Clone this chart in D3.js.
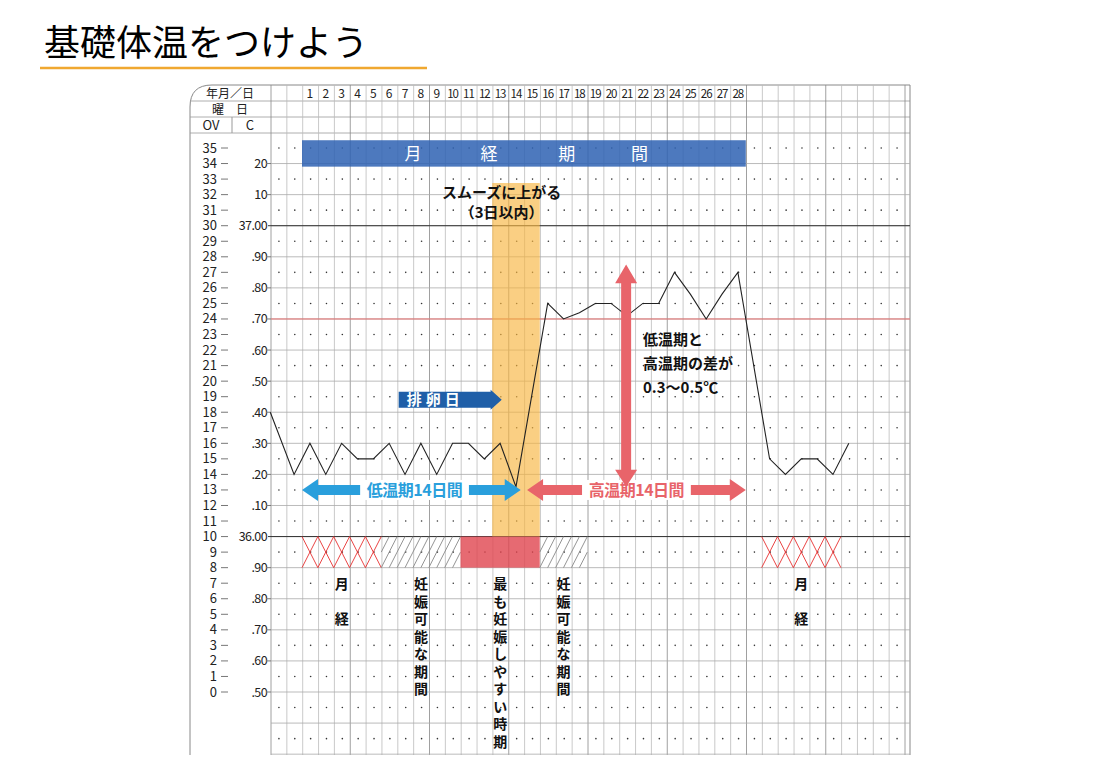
<!DOCTYPE html>
<html><head><meta charset="utf-8">
<script src="https://cdn.jsdelivr.net/npm/d3@7"></script>
<style>body{margin:0;background:#fff}text{font-family:"Noto Sans CJK JP","Noto Sans",sans-serif}</style>
</head><body>
<svg id="c" width="1100" height="777"></svg>
<script>
// data
const days = d3.range(1,29);
const ovTicks = d3.range(0,36);
const cTicks = [[34,"20"],[32,"10"],[30,"37.00"],[28,".90"],[26,".80"],[24,".70"],[22,".60"],[20,".50"],[18,".40"],[16,".30"],[14,".20"],[12,".10"],[10,"36.00"],[8,".90"],[6,".80"],[4,".70"],[2,".60"],[0,".50"]];
// [day, temperature offset from 36.00 in 0.01°C]
const temps = [[-1.5,40],[0,20],[1,30],[2,20],[3,30],[4,25],[5,25],[6,30],[7,20],[8,30],[9,20],[10,30],[11,30],[12,25],[13,30],[14,16],
  [16,75],[17,70],[18,72],[19,75],[20,75],[21,71],[22,75],[23,75],[24,85],[25,78],[26,70],[27,78],[28,85],
  [30,25],[31,20],[32,25],[33,25],[34,20],[35,30]];
const periods = [{t:"x",a:1,b:5},{t:"h",a:6,b:10},{t:"r",a:11,b:15},{t:"h",a:16,b:18},{t:"x",a:30,b:34}];
const vlabels = [[3,"月　経"],[8,"妊娠可能な期間"],[13,"最も妊娠しやすい時期"],[17,"妊娠可能な期間"],[32,"月　経"]];

const svg = d3.select("#c");
const w = 15.85;
const x = d3.scaleLinear().domain([0.5,1.5]).range([302,302+w]); // day center
const y = d3.scaleLinear().domain([35,0]).range([148,692]);
const tC = v => 10 + v/5; // temp offset -> OV row
const gx0 = 271, gx1 = 910, gtop = 85, gbot = 755;

// title
svg.append("text").attr("x",44).attr("y",56).attr("font-size",36).text("基礎体温をつけよう");
svg.append("line").attr("x1",40).attr("x2",427).attr("y1",68).attr("y2",68).attr("stroke","#f0a830").attr("stroke-width",2.5);

// frame
svg.append("path").attr("d",`M190,${gbot}V${gtop+22}Q190,${gtop} 212,${gtop}H${gx1}`).attr("fill","none").attr("stroke","#888");
[101,117,133].forEach(yy=>svg.append("line").attr("x1",190).attr("x2",gx1).attr("y1",yy).attr("y2",yy).attr("stroke","#999").attr("stroke-width",0.8));
svg.append("line").attr("x1",232).attr("x2",232).attr("y1",117).attr("y2",133).attr("stroke","#999");
const ncol = Math.floor((gx1-gx0)/w);
d3.range(ncol+1).forEach(i=>svg.append("line").attr("x1",gx0+i*w).attr("x2",gx0+i*w).attr("y1",gtop).attr("y2",gbot)
  .attr("stroke",i%5==0?"#888":"#bbb").attr("stroke-width",0.8));
svg.append("line").attr("x1",gx1).attr("x2",gx1).attr("y1",gtop).attr("y2",gbot).attr("stroke","#888");

// horizontal grid + dots
d3.range(-4,36).forEach(o=>{
  if(o%2==0) svg.append("line").attr("x1",gx0).attr("x2",gx1).attr("y1",y(o)).attr("y2",y(o)).attr("stroke","#aaa").attr("stroke-width",0.8);
  else d3.range(ncol).forEach(i=>svg.append("circle").attr("cx",gx0+(i+0.5)*w).attr("cy",y(o)).attr("r",0.8).attr("fill","#333"));
});
[30,10].forEach(o=>svg.append("line").attr("x1",268).attr("x2",gx1).attr("y1",y(o)).attr("y2",y(o)).attr("stroke","#333").attr("stroke-width",1));
svg.append("line").attr("x1",gx0).attr("x2",gx1).attr("y1",y(24)).attr("y2",y(24)).attr("stroke","#e87070").attr("stroke-width",1);

// header
const hs = svg.append("g").attr("font-size",12).attr("fill","#222");
hs.append("text").attr("x",230).attr("y",98).attr("text-anchor","middle").text("年月／日");
hs.append("text").attr("x",230).attr("y",114).attr("text-anchor","middle").text("曜　日");
hs.append("text").attr("x",211).attr("y",130).attr("font-size",13).attr("text-anchor","middle").text("OV");
hs.append("text").attr("x",250).attr("y",130).attr("font-size",13).attr("text-anchor","middle").text("C");
days.forEach(d=>hs.append("text").attr("x",x(d)).attr("y",98).attr("text-anchor","middle").attr("font-size",d>9?11.5:12).attr("letter-spacing",d>9?-1:0).text(d));

// axes
const ax = svg.append("g").attr("font-size",13).attr("fill","#222");
ovTicks.forEach(o=>{ax.append("text").attr("x",217).attr("y",y(o)+4.5).attr("text-anchor","end").text(o);
  ax.append("line").attr("x1",221).attr("x2",228).attr("y1",y(o)).attr("y2",y(o)).attr("stroke","#777");});
cTicks.forEach(([o,l])=>{ax.append("text").attr("x",267).attr("y",y(o)+4.5).attr("text-anchor","end").attr("font-size",12.5).attr("letter-spacing",-0.6).text(l);
  if(o!=30&&o!=10) ax.append("line").attr("x1",266).attr("x2",271).attr("y1",y(o)).attr("y2",y(o)).attr("stroke","#777");});

// orange band
svg.append("rect").attr("x",x(12.5)).attr("width",3*w).attr("y",183).attr("height",y(10)-183).attr("fill","#f7b540").attr("opacity",0.65);
// blue period bar
svg.append("rect").attr("x",x(0.5)).attr("width",28*w).attr("y",y(35.5)).attr("height",y(33.8)-y(35.5)).attr("fill","#2e62b3").attr("opacity",0.85);
[[7.5,"月"],[12.3,"経"],[17.2,"期"],[21.8,"間"]].forEach(([d,t])=>svg.append("text").attr("x",x(d)).attr("y",y(34.6)+6).attr("text-anchor","middle").attr("fill","#fff").attr("font-size",17).text(t));

// period marks
periods.forEach(p=>{
  const x0=x(p.a-0.5), x1=x(p.b+0.5), y0=y(10), y1=y(8);
  if(p.t=="r") svg.append("rect").attr("x",x0).attr("y",y0).attr("width",x1-x0).attr("height",y1-y0).attr("fill","#e0454f").attr("opacity",0.8);
  d3.range(p.a,p.b+1).forEach(d=>{
    const a=x(d-0.5), b=x(d+0.5);
    if(p.t=="x") svg.append("path").attr("d",`M${a},${y0}L${b},${y1}M${b},${y0}L${a},${y1}`).attr("stroke","#e83030").attr("stroke-width",0.9);
    if(p.t=="h") svg.append("path").attr("d",`M${a},${y1}L${b},${y0}M${a},${(y0+y1)/2}L${(a+b)/2},${y0}M${(a+b)/2},${y1}L${b},${(y0+y1)/2}`).attr("stroke","#888").attr("stroke-width",0.9);
  });
});
vlabels.forEach(([d,t])=>{
  [...t].forEach((ch,i)=>{ if(ch!="　") svg.append("text").attr("font-size",14).attr("font-weight","bold").attr("fill","#111").attr("text-anchor","middle")
    .attr("x",x(d)).attr("y",y(7)+6+i*17.5).text(ch);});
});

// temperature line
svg.append("path").datum(temps).attr("fill","none").attr("stroke","#222").attr("stroke-width",1.1)
  .attr("d",d3.line().x(d=>Math.max(x(d[0]),268)).y(d=>y(tC(d[1]))));

// arrows
function harrow(xa,xb,yc,col){
  const h=5,H=11,L=16; const dir=Math.sign(xb-xa);
  const p=`M${xb},${yc}L${xb-dir*L},${yc-H}L${xb-dir*L},${yc-h}L${xa+dir*L},${yc-h}L${xa+dir*L},${yc-H}L${xa},${yc}L${xa+dir*L},${yc+H}L${xa+dir*L},${yc+h}L${xb-dir*L},${yc+h}L${xb-dir*L},${yc+H}Z`;
  svg.append("path").attr("d",p).attr("fill",col);
}
harrow(x(0.5),x(14.3),y(13),"#2a9fdc");
harrow(x(14.7),x(28.5),y(13),"#e8646a");
const lab=(t,xc,yc,col,fs)=>{svg.append("rect").attr("x",xc-t.length*fs*0.45-4).attr("y",yc-fs/2-2).attr("width",t.length*fs*0.9+8).attr("height",fs+4).attr("fill","#fff");
  svg.append("text").attr("x",xc).attr("y",yc+fs*0.36).attr("text-anchor","middle").attr("font-size",fs).attr("font-weight","bold").attr("fill",col).attr("letter-spacing",-0.5).text(t);};
lab("低温期14日間",x(7.6),y(13),"#2a9fdc",16);
lab("高温期14日間",x(21.6),y(13),"#e8646a",16);
// ovulation arrow
const oy=y(19)+3;
svg.append("path").attr("d",`M${x(6.6)},${oy-8}H${x(12.4)}V${oy-10}L${x(13.1)},${oy}L${x(12.4)},${oy+10}V${oy+8}H${x(6.6)}Z`).attr("fill","#1f5fa8");
svg.append("text").attr("x",x(8.9)).attr("y",oy+5.5).attr("text-anchor","middle").attr("fill","#fff").attr("font-size",15).attr("font-weight","bold").attr("letter-spacing",4).text("排卵日");
// vertical red arrow
const vx=x(20.95);
svg.append("path").attr("d",`M${vx},${y(27.5)}L${vx+11},${y(26.3)}H${vx+5}V${y(14.3)}H${vx+11}L${vx},${y(13.2)}L${vx-11},${y(14.3)}H${vx-5}V${y(26.3)}H${vx-11}Z`).attr("fill","#e8646a");
["低温期と","高温期の差が","0.3〜0.5℃"].forEach((t,i)=>svg.append("text").attr("font-size",15).attr("font-weight","bold").attr("fill","#111")
  .attr("x",643).attr("y",y(22.3)+i*24).text(t));
[["スムーズに上がる",198],["（3日以内）",218]].forEach(([t,yy])=>svg.append("text").attr("font-size",15).attr("font-weight","bold").attr("fill","#111")
  .attr("text-anchor","middle").attr("x",x(13.1)).attr("y",yy).text(t));
</script>
</body></html>
